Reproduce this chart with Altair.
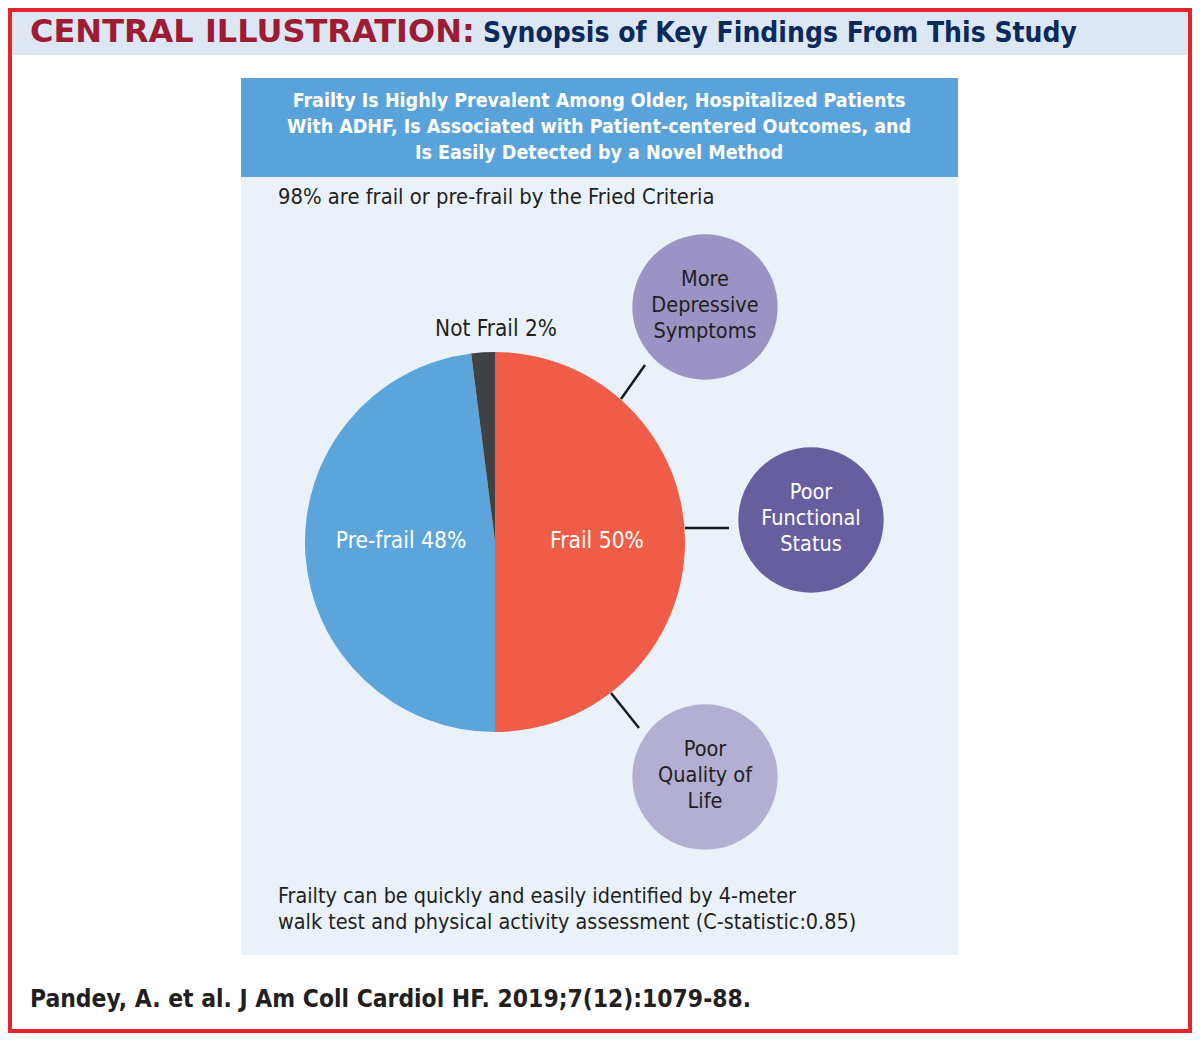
import math
import altair as alt
import pandas as pd

# ---------------- data ----------------
pie_labels = ["Frail", "Pre-frail", "Not Frail"]
pie_values = [50, 48, 2]
pie_text = ["Frail 50%", "Pre-frail 48%", "Not Frail 2%"]

outcome_lines = [
    ["More", "Depressive", "Symptoms"],
    ["Poor", "Functional", "Status"],
    ["Poor", "Quality of", "Life"],
]

title_left = "CENTRAL ILLUSTRATION:"
title_right = "Synopsis of Key Findings From This Study"
panel_title = [
    "Frailty Is Highly Prevalent Among Older, Hospitalized Patients",
    "With ADHF, Is Associated with Patient-centered Outcomes, and",
    "Is Easily Detected by a Novel Method",
]
prevalence_note = "98% are frail or pre-frail by the Fried Criteria"
footer_lines = [
    "Frailty can be quickly and easily identified by 4-meter",
    "walk test and physical activity assessment (C-statistic:0.85)",
]
citation = "Pandey, A. et al. J Am Coll Cardiol HF. 2019;7(12):1079-88."

# ---------------- layout / styles (reference pixel coordinates) ----------------
W, H = 1184, 1025
X0, Y0 = 8, 8
xs = alt.Scale(domain=[X0, X0 + W], nice=False, zero=False)
ys = alt.Scale(domain=[Y0, Y0 + H], nice=False, zero=False, reverse=True)

FONT = "DejaVu Sans Condensed, Roboto"
TITLE_FONT = "DejaVu Sans"
DARK = "#231f20"

pie_colors = ["#ef5c47", "#5ca5da", "#414042"]
pie_center = (495, 542)
pie_radius = 190
pie_label_pos = [(597, 541), (401, 541), (496, 329)]
pie_label_col = ["white", "white", DARK]

circle_centers = [(705, 307), (811, 520), (705, 777)]
circle_radius = 82
circle_colors = ["#9b93c3", "#675ea0", "#b2afd3"]
circle_text_cols = [DARK, "white", DARK]
line_offsets = [-27, -1, 25]

connectors = [(621, 399, 645, 365), (685, 528, 729, 528), (611, 693, 639, 728)]

rects = pd.DataFrame([
    dict(x=12, x2=1188, y=12, y2=55, fill="#dde7f3"),
    dict(x=241, x2=958, y=78, y2=955, fill="#eaf1f9"),
    dict(x=241, x2=958, y=78, y2=177, fill="#5aa3da"),
])


def X(f="x"):
    return alt.X(f"{f}:Q", scale=xs, axis=None)


def Y(f="y"):
    return alt.Y(f"{f}:Q", scale=ys, axis=None)


def text_layer(df, font, weight, align, baseline="middle"):
    return alt.Chart(df).mark_text(
        font=font, fontWeight=weight, align=align, baseline=baseline
    ).encode(
        x=X(), y=Y(), text="text:N",
        size=alt.Size("size:Q", scale=None),
        color=alt.Color("color:N", scale=None),
    )


# background rectangles
rect_layer = alt.Chart(rects).mark_rect().encode(
    x=X(), x2="x2:Q", y=Y(), y2="y2:Q", color=alt.Color("fill:N", scale=None)
)

# pie
pie_df = pd.DataFrame({
    "label": pie_labels, "value": pie_values, "ord": list(range(len(pie_labels))),
    "col": pie_colors,
})
pie_layer = alt.Chart(pie_df).mark_arc(outerRadius=pie_radius).encode(
    theta=alt.Theta("value:Q", stack=True),
    order=alt.Order("ord:Q"),
    color=alt.Color("col:N", scale=None),
    x=alt.X(datum=pie_center[0], scale=xs, axis=None),
    y=alt.Y(datum=pie_center[1], scale=ys, axis=None),
)

pie_text_df = pd.DataFrame({
    "text": pie_text,
    "x": [p[0] for p in pie_label_pos], "y": [p[1] for p in pie_label_pos],
    "size": [22.6, 22.6, 22.4], "color": pie_label_col,
})

# connectors
conn_df = pd.DataFrame(connectors, columns=["x", "y", "x2", "y2"])
conn_layer = alt.Chart(conn_df).mark_rule(color="#1a1a1a", strokeWidth=2.5).encode(
    x=X(), y=Y(), x2="x2:Q", y2="y2:Q"
)

# outcome circles
circ_df = pd.DataFrame({
    "x": [c[0] for c in circle_centers], "y": [c[1] for c in circle_centers],
    "col": circle_colors,
})
circ_layer = alt.Chart(circ_df).mark_circle(opacity=1).encode(
    x=X(), y=Y(), color=alt.Color("col:N", scale=None),
    size=alt.value(math.pi * circle_radius ** 2),
)
rows = []
for (cx, cy), lines, tc in zip(circle_centers, outcome_lines, circle_text_cols):
    for ln, off in zip(lines, line_offsets):
        rows.append(dict(text=ln, x=cx, y=cy + off, size=21.5, color=tc))
circ_text_df = pd.DataFrame(rows)

# titles and notes
title_red_df = pd.DataFrame([dict(text=title_left, x=30, y=42, size=32, color="#9d1c33")])
title_navy_df = pd.DataFrame([dict(text=title_right, x=483, y=42, size=28, color="#0b2a5c")])
panel_title_df = pd.DataFrame([
    dict(text=t, x=599, y=y, size=19.5, color="white")
    for t, y in zip(panel_title, [101, 127, 153])
])
notes_df = pd.DataFrame(
    [dict(text=prevalence_note, x=278, y=197, size=21.8, color=DARK)]
    + [dict(text=t, x=278, y=y, size=21.4, color=DARK) for t, y in zip(footer_lines, [897, 923])]
)
cite_df = pd.DataFrame([dict(text=citation, x=30, y=1000, size=24.4, color=DARK)])

frame_df = pd.DataFrame([dict(x=10, x2=1190, y=10, y2=1031)])
frame_layer = alt.Chart(frame_df).mark_rect(
    fillOpacity=0, stroke="#e3262e", strokeWidth=4
).encode(x=X(), x2="x2:Q", y=Y(), y2="y2:Q")

chart = alt.layer(
    rect_layer,
    text_layer(title_red_df, TITLE_FONT, "bold", "left", "alphabetic"),
    text_layer(title_navy_df, FONT, "bold", "left", "alphabetic"),
    text_layer(panel_title_df, FONT, "bold", "center"),
    text_layer(notes_df, FONT, "normal", "left"),
    conn_layer,
    pie_layer,
    text_layer(pie_text_df, FONT, "normal", "center"),
    circ_layer,
    text_layer(circ_text_df, FONT, "normal", "center"),
    text_layer(cite_df, FONT, "bold", "left"),
    frame_layer,
).properties(
    width=W, height=H, padding=0, background="white",
    autosize=alt.AutoSizeParams(type="none"),
).configure_view(stroke=None)

chart.save("out.html", embed_options={"renderer": "svg", "actions": False})
